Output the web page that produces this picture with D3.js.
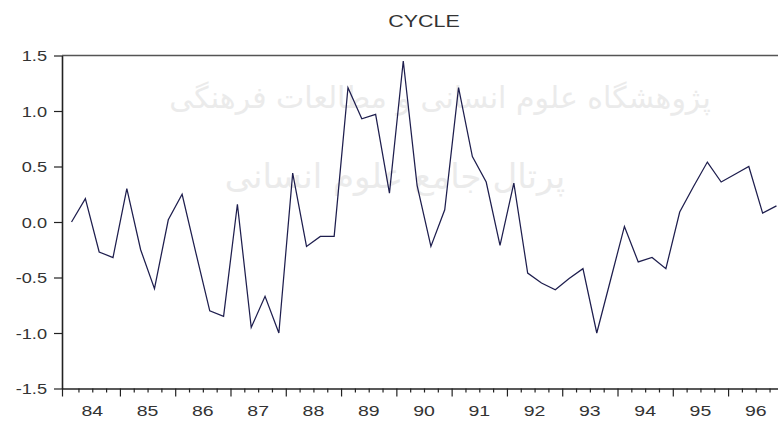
<!DOCTYPE html>
<html>
<head>
<meta charset="utf-8">
<script src="https://cdn.jsdelivr.net/npm/d3@7/dist/d3.min.js"></script>
<style>
  html, body { margin: 0; padding: 0; background: #fff; }
  svg { display: block; }
</style>
</head>
<body>
<svg id="chart" width="778" height="421"></svg>
<script>
// ---- data ----
const title = "CYCLE";
const years = ["84","85","86","87","88","89","90","91","92","93","94","95","96"];
// quarterly observations 1984Q1 .. 1996Q4
const cycle = [
   0.00,  0.21, -0.27, -0.32,
   0.30, -0.25, -0.60,  0.02,
   0.25, -0.28, -0.80, -0.85,
   0.16, -0.95, -0.67, -1.00,
   0.44, -0.22, -0.13, -0.13,
   1.21,  0.93,  0.97,  0.26,
   1.45,  0.33, -0.22,  0.11,
   1.21,  0.59,  0.36, -0.21,
   0.35, -0.46, -0.55, -0.61,
  -0.51, -0.42, -1.00, -0.52,
  -0.04, -0.36, -0.32, -0.42,
   0.09,  0.32,  0.54,  0.36,
   0.43,  0.50,  0.08,  0.145
];
const yTicks = [-1.5, -1.0, -0.5, 0.0, 0.5, 1.0, 1.5];
const watermark1 = "پژوهشگاه علوم انسانی و مطالعات فرهنگی";
const watermark2 = "پرتال جامع علوم انسانی";

// ---- layout ----
const svg = d3.select("#chart");
const mLeft = 62, mRight = 786, mTop = 55.5, mBottom = 388.5;
const stretch = 1.3; // text in the reference is horizontally stretched

const x = d3.scaleLinear().domain([-0.69, cycle.length - 1 + 0.69]).range([mLeft, mRight]);
const y = d3.scaleLinear().domain([-1.5, 1.5]).range([mBottom, mTop]);

// faint watermark
const wm = svg.append("g").attr("fill", "#ebebeb").attr("font-family", "DejaVu Sans, sans-serif");
wm.append("text").attr("x", 440).attr("y", 108).attr("text-anchor", "middle")
  .attr("font-size", 30)
  .text(watermark1);
wm.append("text").attr("x", 395).attr("y", 188).attr("text-anchor", "middle")
  .attr("font-size", 34)
  .text(watermark2);

// title
svg.append("text")
  .attr("transform", `translate(${(mLeft + mRight) / 2},27) scale(${stretch},1)`)
  .attr("text-anchor", "middle")
  .attr("font-family", "Liberation Sans, Arial, sans-serif")
  .attr("font-size", 16.5)
  .attr("fill", "#333")
  .text(title);

// top frame line
svg.append("line")
  .attr("x1", mLeft).attr("x2", mRight)
  .attr("y1", mTop).attr("y2", mTop)
  .attr("stroke", "#555").attr("stroke-width", 1.6);

// y axis
const yAxis = svg.append("g")
  .attr("transform", `translate(${mLeft},0)`)
  .call(d3.axisLeft(y).tickValues(yTicks).tickSize(8).tickSizeOuter(0).tickFormat(d => d.toFixed(1)));
yAxis.select(".domain").attr("stroke", "#222").attr("stroke-width", 1.6);
yAxis.selectAll(".tick line").attr("stroke", "#222").attr("stroke-width", 1.2);
yAxis.selectAll(".tick text")
  .attr("transform", `translate(-15,0) scale(${stretch},1)`).attr("x", 0).attr("dy", "0.36em")
  .attr("font-family", "Liberation Sans, Arial, sans-serif").attr("font-size", 14).attr("fill", "#333");

// x axis: minor (quarter) ticks, major (year) ticks, and year labels
const qBounds = d3.range(cycle.length - 1).map(i => i + 0.5);
const minor = qBounds.filter((d, i) => (i + 1) % 4 !== 0);
const major = [x.domain()[0]].concat(qBounds.filter((d, i) => (i + 1) % 4 === 0));

const xMinor = svg.append("g").attr("transform", `translate(0,${mBottom})`)
  .call(d3.axisBottom(x).tickValues(minor).tickSize(4).tickSizeOuter(0).tickFormat(""));
xMinor.select(".domain").attr("stroke", "#222").attr("stroke-width", 1.6);
xMinor.selectAll(".tick line").attr("stroke", "#222").attr("stroke-width", 1.2);

const xMajor = svg.append("g").attr("transform", `translate(0,${mBottom})`)
  .call(d3.axisBottom(x).tickValues(major).tickSize(8).tickSizeOuter(0).tickFormat(""));
xMajor.select(".domain").remove();
xMajor.selectAll(".tick line").attr("stroke", "#222").attr("stroke-width", 1.2);

svg.append("g").selectAll("text").data(years).join("text")
  .attr("transform", (d, i) => `translate(${x(i * 4 + 1.5)},416) scale(${stretch},1)`)
  .attr("text-anchor", "middle")
  .attr("font-family", "Liberation Sans, Arial, sans-serif")
  .attr("font-size", 15)
  .attr("fill", "#333")
  .text(d => d);

// series line
const line = d3.line().x((d, i) => x(i)).y(d => y(d));
svg.append("path")
  .datum(cycle)
  .attr("d", line)
  .attr("fill", "none")
  .attr("stroke", "#1e1e4e")
  .attr("stroke-width", 1.25)
  .attr("stroke-linejoin", "miter");
</script>
</body>
</html>
